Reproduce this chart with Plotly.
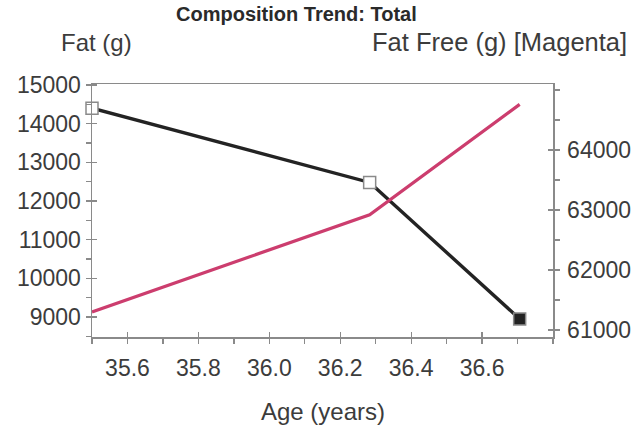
import plotly.graph_objects as go

# ---- data ----
ages = [35.5, 36.283, 36.706]
fat_g = [14400, 12480, 8950]
fat_free_g = [61300, 62920, 64760]

x_ticks = [35.6, 35.8, 36.0, 36.2, 36.4, 36.6]
x_ticklabels = ["35.6", "35.8", "36.0", "36.2", "36.4", "36.6"]
left_ticks = [9000, 10000, 11000, 12000, 13000, 14000, 15000]
left_ticklabels = ["9000", "10000", "11000", "12000", "13000", "14000", "15000"]
right_ticks = [61000, 62000, 63000, 64000]
right_ticklabels = ["61000", "62000", "63000", "64000"]

title_text = "Composition Trend: Total"
left_title = "Fat (g)"
right_title = "Fat Free (g) [Magenta]"
x_title = "Age (years)"

W, H = 641, 431
L, R, T, B = 92, 553, 84, 337
pw, ph = R - L, B - T

def px(x):
    return (x - L) / pw

def py(y):
    return (B - y) / ph

FONT = "Liberation Sans, Arial, sans-serif"
TXT = "#3c3c3c"
AX = "#8a8a8a"

fig = go.Figure()

fig.add_trace(go.Scatter(
    x=ages, y=fat_free_g, yaxis="y2", mode="lines",
    line=dict(color="#cc3d6e", width=3.2), cliponaxis=False,
    hoverinfo="skip", showlegend=False))

fig.add_trace(go.Scatter(
    x=ages, y=fat_g, yaxis="y", mode="lines+markers", cliponaxis=False,
    line=dict(color="#232323", width=3.4),
    marker=dict(symbol="square", size=12,
                color=["white", "white", "#232323"],
                line=dict(color="#8a8a8a", width=1.5)),
    hoverinfo="skip", showlegend=False))

tickfont = dict(family=FONT, size=23, color=TXT)

xcommon = dict(range=[35.5, 36.8], domain=[0, 1], automargin=False,
               tickvals=x_ticks, ticktext=x_ticklabels,
               ticklen=5, tickcolor=AX, tickwidth=1.3,
               minor=dict(dtick=0.1, tick0=35.6, ticklen=5, tickcolor=AX, tickwidth=1.3),
               showgrid=False, zeroline=False)

yl = dict(range=[8483, 15026], tickvals=left_ticks, ticktext=left_ticklabels,
          automargin=False, ticklen=5, tickcolor=AX, tickwidth=1.3,
          minor=dict(dtick=500, tick0=9000, ticklen=5, tickcolor=AX, tickwidth=1.3),
          showgrid=False, zeroline=False)
yr = dict(range=[60883, 65100], tickvals=right_ticks, ticktext=right_ticklabels,
          automargin=False, ticklen=5, tickcolor=AX, tickwidth=1.3,
          minor=dict(dtick=500, tick0=61000, ticklen=5, tickcolor=AX, tickwidth=1.3),
          showgrid=False, zeroline=False)

fig.update_layout(
    width=W, height=H,
    margin=dict(l=L, r=W - R, t=T, b=H - B, pad=0),
    paper_bgcolor="white", plot_bgcolor="white",
    hovermode=False,
    xaxis=dict(**xcommon, ticks="outside",
               showline=True, linecolor=AX, linewidth=1.5, mirror=True,
               tickfont=tickfont, ticklabelstandoff=5),
    xaxis2=dict(**xcommon, ticks="inside", overlaying="x", showticklabels=False,
                showline=False, anchor="y"),
    yaxis=dict(**yl, ticks="outside", showline=True, linecolor=AX, linewidth=1.5,
               tickfont=tickfont, ticklabelstandoff=0),
    yaxis2=dict(**yr, overlaying="y", side="right", ticks="outside",
                showline=True, linecolor=AX, linewidth=1.5,
                tickfont=tickfont, ticklabelstandoff=3),
    yaxis3=dict(**yl, overlaying="y", ticks="inside", showticklabels=False,
                showline=False),
    yaxis4=dict(**yr, overlaying="y", side="right", ticks="inside",
                showticklabels=False, showline=False),
)

# invisible traces to activate the inside-tick axes
fig.add_trace(go.Scatter(x=[ages[0]], y=[fat_g[0]], xaxis="x2", yaxis="y3",
                         mode="markers", marker=dict(opacity=0), hoverinfo="skip",
                         showlegend=False))
fig.add_trace(go.Scatter(x=[ages[0]], y=[fat_free_g[0]], xaxis="x2", yaxis="y4",
                         mode="markers", marker=dict(opacity=0), hoverinfo="skip",
                         showlegend=False))

ann = [
    dict(text="<b>" + title_text + "</b>", x=px(296), y=py(14), xanchor="center",
         yanchor="middle", font=dict(family=FONT, size=20, color="#2a2a2a")),
    dict(text=left_title, x=px(96), y=py(42), xanchor="center", yanchor="middle",
         font=dict(family=FONT, size=24, color=TXT)),
    dict(text=right_title, x=px(629), y=py(42), xanchor="right", yanchor="middle",
         font=dict(family=FONT, size=25.5, color=TXT)),
    dict(text=x_title, x=px(323), y=py(411), xanchor="center", yanchor="middle",
         font=dict(family=FONT, size=24, color=TXT)),
]
for a in ann:
    a.update(xref="paper", yref="paper", showarrow=False)
fig.update_layout(annotations=ann)

fig.write_html("out.html",
               config={"displayModeBar": False, "staticPlot": True},
               post_script="document.body.style.margin='0px';"
                           "document.body.style.overflow='hidden';")
